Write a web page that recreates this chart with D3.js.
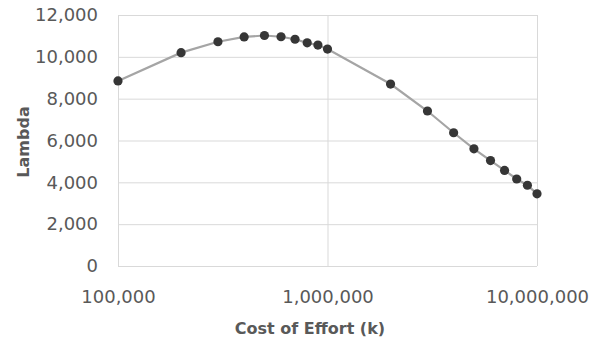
<!DOCTYPE html>
<html><head><meta charset="utf-8">
<script src="https://cdn.jsdelivr.net/npm/d3@7/dist/d3.min.js"></script>
<style>body{margin:0;background:#fff;}svg{display:block;}</style>
</head><body>
<script>
const costs = [100000,200000,300000,400000,500000,600000,700000,800000,900000,1000000,
  2000000,3000000,4000000,5000000,6000000,7000000,8000000,9000000,10000000];
const lambdas = [8850,10200,10720,10950,11020,10960,10840,10670,10560,10370,
  8700,7410,6370,5600,5040,4570,4160,3860,3450];
const yTicks = [0,2000,4000,6000,8000,10000,12000];
const xTicks = [100000,1000000,10000000];

const W=601,H=343;
const m={l:118,r:64,t:15,b:77};
const svg=d3.select("body").append("svg").attr("width",W).attr("height",H);
const x=d3.scaleLog().domain([100000,10000000]).range([m.l,W-m.r]);
const y=d3.scaleLinear().domain([0,12000]).range([H-m.b,m.t]);
const fmt=d3.format(",");
const txt="#595959", grid="#d9d9d9";

const g=svg.append("g");
g.selectAll("line.h").data(yTicks).join("line")
 .attr("x1",m.l).attr("x2",W-m.r).attr("y1",d=>y(d)+0.5).attr("y2",d=>y(d)+0.5)
 .attr("stroke",grid).attr("stroke-width",1);
g.selectAll("line.v").data(xTicks).join("line")
 .attr("y1",m.t).attr("y2",H-m.b).attr("x1",d=>x(d)+0.5).attr("x2",d=>x(d)+0.5)
 .attr("stroke",grid).attr("stroke-width",1);

const yAxis=d3.axisLeft(y).tickValues(yTicks).tickFormat(fmt).tickSize(0).tickPadding(20);
const ya=svg.append("g").attr("transform",`translate(${m.l},0)`).call(yAxis);
ya.select(".domain").remove();
ya.selectAll("text").attr("fill",txt).style("font-family","DejaVu Sans").style("font-size","18px");

const xAxis=d3.axisBottom(x).tickValues(xTicks).tickFormat(fmt).tickSize(0).tickPadding(24);
const xa=svg.append("g").attr("transform",`translate(0,${H-m.b})`).call(xAxis);
xa.select(".domain").remove();
xa.selectAll("text").attr("fill",txt).style("font-family","DejaVu Sans").style("font-size","18px");

const data=costs.map((c,i)=>({c,v:lambdas[i]}));
svg.append("path").datum(data)
 .attr("d",d3.line().x(d=>x(d.c)).y(d=>y(d.v)))
 .attr("fill","none").attr("stroke","#a5a5a5").attr("stroke-width",2.2);
svg.selectAll("circle").data(data).join("circle")
 .attr("cx",d=>x(d.c)).attr("cy",d=>y(d.v)).attr("r",4.6).attr("fill","#363636");

svg.append("text").attr("x",310).attr("y",334).attr("text-anchor","middle")
 .attr("fill",txt).style("font-family","DejaVu Sans").style("font-weight","bold").style("font-size","16px")
 .text("Cost of Effort (k)");
svg.append("text").attr("transform","translate(29,142) rotate(-90)").attr("text-anchor","middle")
 .attr("fill",txt).style("font-family","DejaVu Sans").style("font-weight","bold").style("font-size","16px")
 .text("Lambda");
</script>
</body></html>
